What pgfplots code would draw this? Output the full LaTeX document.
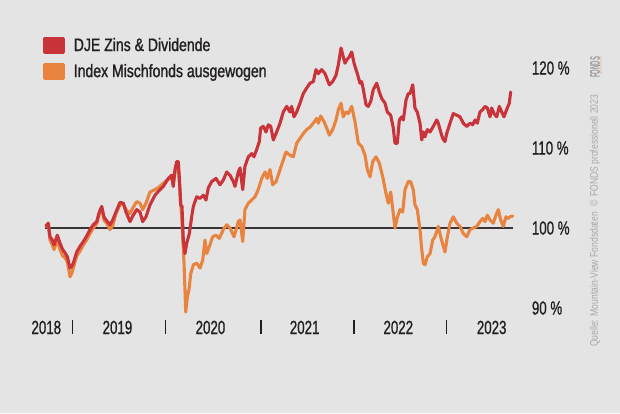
\documentclass[border=0pt]{standalone}
\usepackage{pgfplots}
\pgfplotsset{compat=1.18}
\usepackage{pgfplotstable}
\usepackage{graphicx}
\usepackage{fontspec}
\setmainfont{Liberation Sans}
\newfontfamily\tickfont{Liberation Sans}[FakeStretch=0.70, FakeBold=0.9]
\newfontfamily\legfont{Liberation Sans}[FakeStretch=0.78, FakeBold=1.2]
\newfontfamily\srcfont{Liberation Sans}[FakeStretch=0.78]
\definecolor{bg}{HTML}{E4E4E4}
\definecolor{djered}{HTML}{C9333A}
\definecolor{idxorange}{HTML}{E8843F}
\definecolor{txt}{HTML}{231F20}
\definecolor{src}{HTML}{A9A9A9}

\pgfplotstableread{
x y
2018.710 100.3
2018.734 100.6
2018.753 98.9
2018.777 98.5
2018.796 97.9
2018.831 99.1
2018.860 98.1
2018.889 97.3
2018.914 96.9
2018.939 96.4
2018.968 95.0
2018.986 95.2
2019.003 95.6
2019.040 97.0
2019.075 97.7
2019.111 98.3
2019.147 99.0
2019.183 99.8
2019.218 100.4
2019.255 100.8
2019.283 102.0
2019.309 102.7
2019.333 101.4
2019.362 100.9
2019.398 100.4
2019.427 101.0
2019.462 102.0
2019.505 103.2
2019.541 103.1
2019.570 102.0
2019.613 100.8
2019.648 101.6
2019.685 102.3
2019.720 102.0
2019.749 100.8
2019.785 101.4
2019.828 102.9
2019.882 104.1
2019.935 104.8
2019.971 105.2
2020.025 106.2
2020.061 106.6
2020.078 105.2
2020.097 107.3
2020.115 108.3
2020.132 108.3
2020.151 104.8
2020.158 102.9
2020.172 102.7
2020.186 98.5
2020.204 96.8
2020.223 98.1
2020.251 99.3
2020.276 101.4
2020.294 102.7
2020.330 103.9
2020.366 103.7
2020.401 104.1
2020.430 103.5
2020.455 105.0
2020.491 105.8
2020.538 106.2
2020.581 105.4
2020.616 106.0
2020.653 107.0
2020.688 106.6
2020.724 105.8
2020.742 105.2
2020.777 107.0
2020.796 107.5
2020.825 104.8
2020.849 107.7
2020.885 108.9
2020.922 109.3
2020.946 108.9
2020.975 109.8
2021.003 110.8
2021.018 112.5
2021.046 112.7
2021.075 112.0
2021.100 112.9
2021.126 112.7
2021.154 111.0
2021.183 111.8
2021.226 113.1
2021.261 114.5
2021.298 115.2
2021.333 114.5
2021.351 115.2
2021.376 113.9
2021.405 114.5
2021.441 115.6
2021.476 116.8
2021.513 117.5
2021.548 118.1
2021.584 118.3
2021.613 119.8
2021.638 119.3
2021.674 119.8
2021.710 119.3
2021.756 117.9
2021.792 118.3
2021.828 119.1
2021.853 120.4
2021.882 122.5
2021.906 121.4
2021.925 120.6
2021.943 121.0
2021.971 121.4
2021.997 122.0
2022.022 120.6
2022.057 119.3
2022.086 118.1
2022.104 118.3
2022.122 117.3
2022.151 115.4
2022.175 115.2
2022.201 115.8
2022.229 117.3
2022.266 118.1
2022.294 117.0
2022.319 116.2
2022.355 115.6
2022.380 114.5
2022.416 114.1
2022.444 112.5
2022.462 110.6
2022.487 110.6
2022.509 113.5
2022.534 113.9
2022.552 113.5
2022.581 116.0
2022.605 116.8
2022.624 116.8
2022.653 117.9
2022.677 115.0
2022.702 114.5
2022.731 113.1
2022.750 111.0
2022.767 112.0
2022.785 111.4
2022.810 112.3
2022.839 112.0
2022.874 112.7
2022.911 113.5
2022.928 113.1
2022.954 112.0
2022.975 111.2
2023.000 110.8
2023.018 111.8
2023.054 113.1
2023.089 114.3
2023.126 114.1
2023.161 113.9
2023.197 113.1
2023.233 112.7
2023.269 113.1
2023.298 112.9
2023.323 113.5
2023.347 113.1
2023.376 114.5
2023.405 114.8
2023.430 115.2
2023.455 115.0
2023.484 113.9
2023.502 115.0
2023.527 114.3
2023.556 113.9
2023.584 115.2
2023.610 114.5
2023.634 113.9
2023.663 114.8
2023.691 115.6
2023.706 117.0
}\djetab

\pgfplotstableread{
x y
2018.710 100.2
2018.734 100.4
2018.753 98.5
2018.777 97.9
2018.796 97.3
2018.831 98.5
2018.860 97.3
2018.889 96.5
2018.914 96.3
2018.939 95.8
2018.968 93.9
2018.986 94.3
2019.003 95.0
2019.040 96.5
2019.075 97.1
2019.111 97.9
2019.147 98.5
2019.183 99.3
2019.218 100.0
2019.255 100.5
2019.283 101.8
2019.309 102.3
2019.333 101.0
2019.362 100.6
2019.398 99.8
2019.427 100.3
2019.462 101.8
2019.505 102.9
2019.541 103.0
2019.570 102.3
2019.613 101.8
2019.648 102.6
2019.685 103.3
2019.720 103.1
2019.749 102.3
2019.785 103.1
2019.828 104.5
2019.882 104.8
2019.935 105.2
2019.971 105.6
2020.025 106.1
2020.061 106.3
2020.078 105.5
2020.097 107.0
2020.115 108.0
2020.132 108.0
2020.151 104.1
2020.169 101.4
2020.194 95.6
2020.212 89.5
2020.230 91.4
2020.247 92.3
2020.266 94.3
2020.294 95.4
2020.330 95.6
2020.366 95.0
2020.395 96.0
2020.419 98.5
2020.438 96.8
2020.473 97.9
2020.502 98.9
2020.538 99.1
2020.573 98.7
2020.616 99.8
2020.653 100.4
2020.688 100.0
2020.731 98.9
2020.777 100.8
2020.796 101.0
2020.825 98.3
2020.849 102.3
2020.885 103.1
2020.922 103.5
2020.957 103.9
2020.992 104.8
2021.029 106.2
2021.065 107.0
2021.089 106.2
2021.118 107.3
2021.147 105.4
2021.183 105.8
2021.218 107.0
2021.255 108.3
2021.290 109.5
2021.333 109.1
2021.369 108.9
2021.405 110.6
2021.441 111.2
2021.476 111.8
2021.513 112.3
2021.548 112.6
2021.584 113.1
2021.620 113.7
2021.638 113.1
2021.663 114.0
2021.699 113.3
2021.728 112.5
2021.756 111.6
2021.792 112.3
2021.828 113.5
2021.853 114.8
2021.882 115.6
2021.906 113.9
2021.935 114.5
2021.960 114.3
2021.997 115.2
2022.032 113.3
2022.068 110.6
2022.104 110.2
2022.140 109.1
2022.165 107.3
2022.194 106.4
2022.223 108.3
2022.258 108.9
2022.294 108.1
2022.330 106.4
2022.366 104.3
2022.390 103.1
2022.416 104.5
2022.444 101.8
2022.462 100.0
2022.487 101.3
2022.516 102.3
2022.545 102.0
2022.570 104.8
2022.605 105.8
2022.631 105.8
2022.659 104.8
2022.677 102.9
2022.702 102.3
2022.731 99.8
2022.750 97.3
2022.767 95.6
2022.785 95.4
2022.810 96.4
2022.839 96.8
2022.868 98.5
2022.892 98.9
2022.928 100.2
2022.954 98.9
2022.982 97.7
2023.000 97.0
2023.025 98.9
2023.054 100.6
2023.089 101.4
2023.126 100.6
2023.161 100.2
2023.197 99.3
2023.233 98.9
2023.269 99.8
2023.304 100.0
2023.341 100.2
2023.376 100.8
2023.405 101.2
2023.430 100.8
2023.455 101.6
2023.484 101.0
2023.519 100.6
2023.548 101.6
2023.573 102.3
2023.599 101.0
2023.627 100.2
2023.656 101.4
2023.680 101.2
2023.699 101.4
2023.728 101.5
}\idxtab

\begin{document}
\begin{tikzpicture}[x=1pt,y=1pt]
\fill[bg] (0,0) rectangle (620,413);
\useasboundingbox (0,0) rectangle (620,413);
\begin{axis}[
  at={(40pt,93pt)}, anchor=south west,
  scale only axis, width=480pt, height=280pt,
  xmin=2018.6452, xmax=2023.8065, ymin=88.5, ymax=123.5,
  axis line style={draw=none},
  xtick pos=bottom,
  xtick={2018.713,2019.478,2020.478,2021.491,2022.498,2023.502},
  xticklabels={2018,2019,2020,2021,2022,2023},
  xtick style={draw=none},
  xticklabel style={font=\tickfont\fontsize{19}{22}\selectfont, text=txt, anchor=base, inner sep=0pt, yshift=-14pt},
  extra x ticks={2018.992,2019.997,2021.022,2022.022,2023.018},
  extra x tick labels={},
  extra x tick style={xtick style={draw=txt, line width=1.3pt}, major tick length=13.5pt, tick align=outside},
  ytick={90,100,110,120},
  yticklabels={90 \%,100 \%,110 \%,120 \%},
  yticklabel pos=right,
  ytick style={draw=none},
  yticklabel style={font=\tickfont\fontsize{19}{22}\selectfont, text=txt, anchor=west, inner sep=0pt, xshift=11.7pt},
  reverse legend,
  legend image code/.code={\fill[#1] (0pt,-7pt) rectangle (19pt,7pt);},
  legend style={at={(0.00625,1.0118)}, anchor=north west, draw=none, fill=none,
    inner sep=0pt, outer sep=0pt, row sep=9pt,
    font=\legfont\fontsize{18}{22}\selectfont, text=txt,
    cells={anchor=west}, nodes={inner sep=0pt},
    /tikz/every odd column/.append style={column sep=8.7pt}},
]
\addplot[draw=txt!90, line width=1.8pt, forget plot] coordinates {(2018.699,100) (2023.731,100)};
\addplot[idxorange, line width=3.1pt, line join=round, line cap=round] table[x=x,y=y] {\idxtab};
\addlegendentry{Index Mischfonds ausgewogen}
\addplot[djered, line width=3.1pt, line join=round, line cap=round] table[x=x,y=y] {\djetab};
\addlegendentry{DJE Zins \& Dividende}
\end{axis}
\node[rotate=90, anchor=west, inner sep=0pt, text=src, font=\srcfont\fontsize{11}{13}\selectfont] at (595,66) {Quelle: Mountain-View Fondsdaten\hspace{6pt}©\hspace{3pt}FONDS professionell 2023};
\node[rotate=90, anchor=west, inner sep=0pt, text=black!40, font=\srcfont\bfseries\fontsize{14}{14}\selectfont] at (595,335) {\scalebox{0.55}[1]{FONDS}};
\node[rotate=90, anchor=west, inner sep=0pt, text=idxorange!60, font=\srcfont\fontsize{4}{4}\selectfont] at (601,338) {professionell};
\end{tikzpicture}
\end{document}
